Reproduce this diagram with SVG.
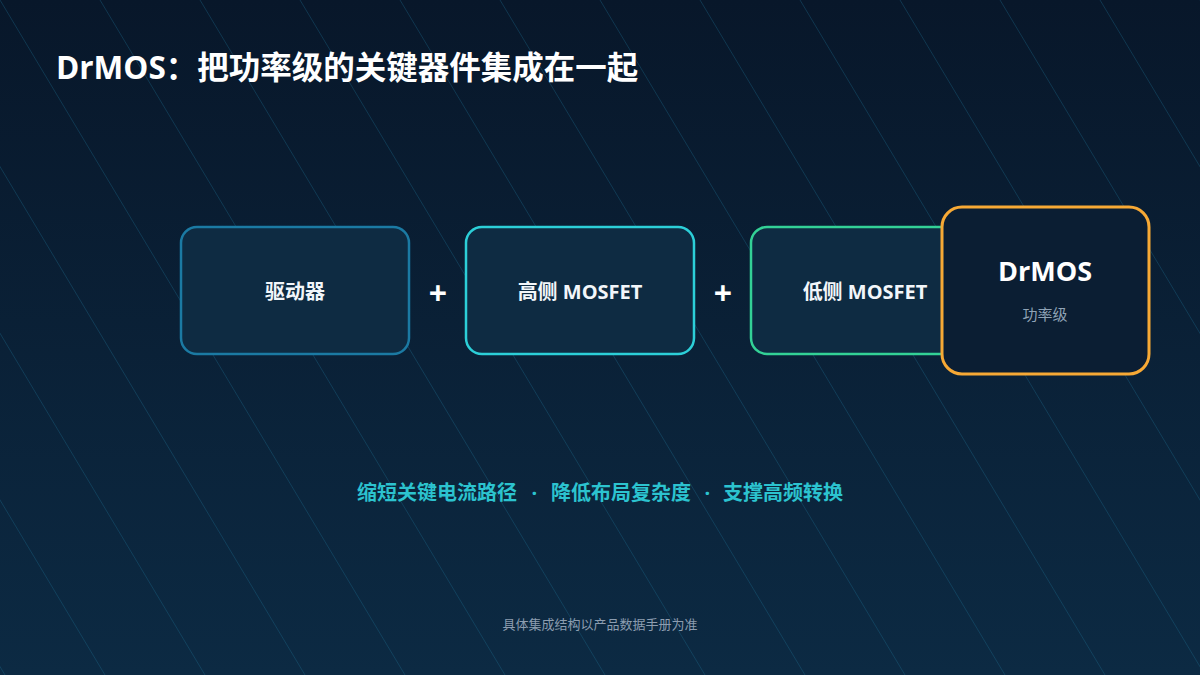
<svg xmlns="http://www.w3.org/2000/svg" width="1200" height="675" viewBox="0 0 1200 675">
  <defs>
    <linearGradient id="bg" x1="0" y1="0" x2="0" y2="1">
      <stop offset="0" stop-color="#08172a"/>
      <stop offset="1" stop-color="#0c2a43"/>
    </linearGradient>
    <style>
      .t { font-family: "Open Sans", "Noto Sans CJK SC", sans-serif; }
      .box { fill: #0e2b42; stroke-width: 2.5; }
      .lbl { font-family: "Open Sans", "Noto Sans CJK SC", sans-serif; font-size: 20px; font-weight: 700; fill: #f2f6fa; text-anchor: middle; }
      .plus { font-family: "Open Sans", "Noto Sans CJK SC", sans-serif; font-size: 32px; font-weight: 700; fill: #ffffff; text-anchor: middle; }
    </style>
  </defs>
  <rect width="1200" height="675" fill="url(#bg)"/>
  <g id="bg-lines" stroke="#1f6f92" stroke-opacity="0.35" stroke-width="1" fill="none">
    <path d="M-400 0 L5 675 M-300 0 L105 675 M-200 0 L205 675 M-100 0 L305 675 M0 0 L405 675 M100 0 L505 675 M200 0 L605 675 M300 0 L705 675 M400 0 L805 675 M500 0 L905 675 M600 0 L1005 675 M700 0 L1105 675 M800 0 L1205 675 M900 0 L1305 675 M1000 0 L1405 675 M1100 0 L1505 675 M1200 0 L1605 675"/>
  </g>

  <text id="title" class="t" x="56" y="79" font-size="31.5" font-weight="700" fill="#ffffff">DrMOS：把功率级的关键器件集成在一起</text>

  <g id="node-driver">
    <rect class="box" x="181" y="227" width="228" height="127" rx="16" stroke="#1b7aa3"/>
    <text class="lbl" x="295" y="299">驱动器</text>
  </g>
  <g id="plus-1"><text class="plus" x="438" y="305">+</text></g>
  <g id="node-hs">
    <rect class="box" x="466" y="227" width="228" height="127" rx="16" stroke="#2ccfd8"/>
    <text class="lbl" x="580" y="299">高侧 MOSFET</text>
  </g>
  <g id="plus-2"><text class="plus" x="723" y="305">+</text></g>
  <g id="node-ls">
    <rect class="box" x="751" y="227" width="228" height="127" rx="16" stroke="#33d196"/>
    <text class="lbl" x="865" y="299">低侧 MOSFET</text>
  </g>
  <g id="node-drmos">
    <rect x="942" y="207" width="207" height="167" rx="20" fill="#0b1e33" stroke="#f7a935" stroke-width="3"/>
    <text class="t" x="1045" y="281" font-size="27" font-weight="700" fill="#ffffff" text-anchor="middle">DrMOS</text>
    <text class="t" x="1045" y="320" font-size="15" fill="#8fa3b6" text-anchor="middle">功率级</text>
  </g>

  <g id="connectors"></g>

  <text id="benefits" class="t" y="500" font-size="20" font-weight="700" fill="#2cc3cf"><tspan x="357">缩短关键电流路径</tspan><tspan x="531.5">·</tspan><tspan x="551">降低布局复杂度</tspan><tspan x="704.5">·</tspan><tspan x="723">支撑高频转换</tspan></text>

  <text id="footnote" class="t" x="600" y="629" font-size="13" fill="#8c9db0" text-anchor="middle">具体集成结构以产品数据手册为准</text>
</svg>
